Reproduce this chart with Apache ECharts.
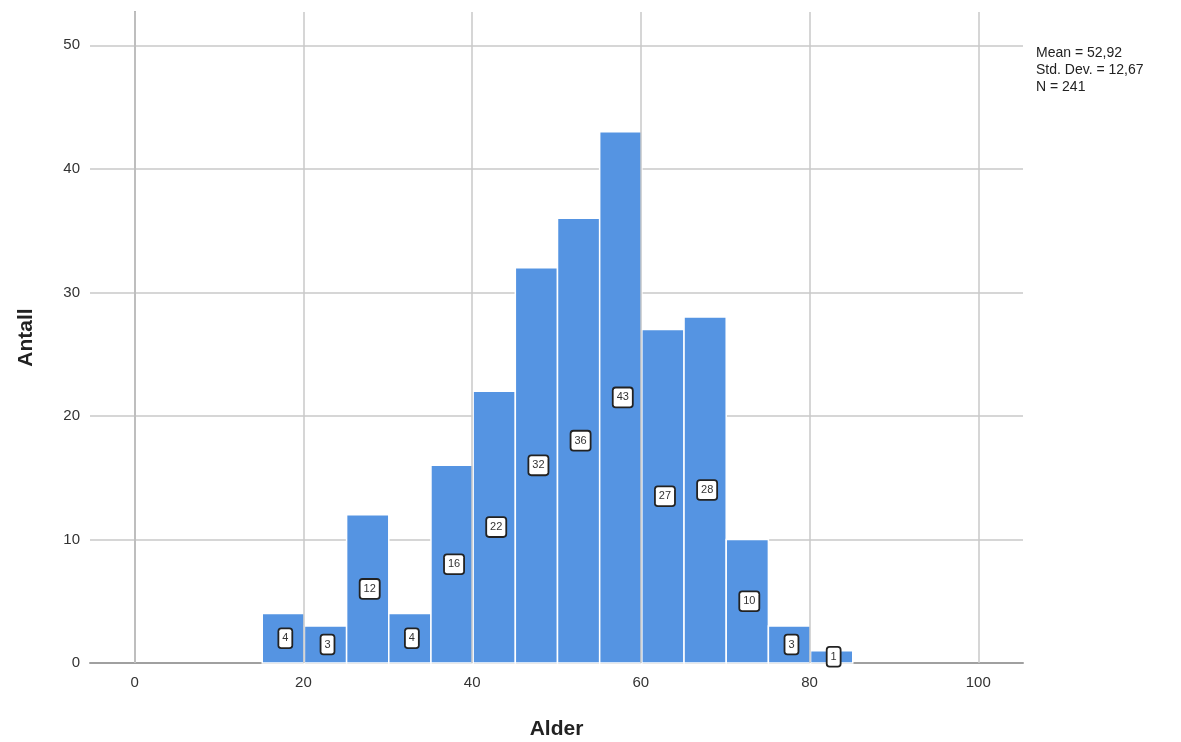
<!DOCTYPE html>
<html><head><meta charset="utf-8">
<script src="https://cdn.jsdelivr.net/npm/echarts@6/dist/echarts.min.js"></script>
<style>html,body{margin:0;padding:0;background:#fff}#c{width:1181px;height:742px}</style>
</head><body><div id="c"></div>
<script>
const binStarts = [15,20,25,30,35,40,45,50,55,60,65,70,75,80];
const binWidth = 5;
const counts = [4,3,12,4,16,22,32,36,43,27,28,10,3,1];
const xTicks = [0,20,40,60,80,100];
const yTicks = [0,10,20,30,40,50];
const statsLines = ['Mean = 52,92','Std. Dev. = 12,67','N = 241'];
const xTitle = 'Alder';
const yTitle = 'Antall';

const data = binStarts.map((s,i)=>[s, s+binWidth, counts[i]]);
const chart = echarts.init(document.getElementById('c'));
const font = 'Liberation Sans, Arial, sans-serif';
chart.setOption({
  animation:false,
  grid:{left:90,right:158,top:12,bottom:79,containLabel:false,outerBoundsMode:'none'},
  xAxis:{type:'value',min:-5.3,max:105.3,
    axisLine:{show:true,onZero:false,lineStyle:{color:'#a0a0a0',width:2}},
    axisTick:{show:false},
    axisLabel:{customValues:xTicks,color:'#333',fontSize:15,fontFamily:font,margin:12},
    splitLine:{show:false},
    name:xTitle,nameLocation:'middle',nameGap:56,
    nameTextStyle:{fontSize:21,fontWeight:'bold',color:'#222',fontFamily:font}
  },
  yAxis:{type:'value',min:0,max:52.7,interval:10,
    axisLine:{show:true,lineStyle:{color:'#a0a0a0',width:2}},
    axisTick:{show:false},
    axisLabel:{customValues:yTicks,color:'#333',fontSize:15,fontFamily:font,margin:10},
    splitLine:{show:true,showMaxLine:false,showMinLine:false,lineStyle:{color:'#c8c8c8',width:1.5}},
    name:yTitle,nameLocation:'middle',nameGap:53,nameRotate:90,
    nameTextStyle:{fontSize:21,fontWeight:'bold',color:'#222',fontFamily:font}
  },
  graphic:[{type:'text',left:1036,top:45,style:{text:statsLines.join('\n'),font:'14px '+font,fill:'#222',lineHeight:17}}],
  series:[
    {type:'line',data:[],markLine:{silent:true,symbol:'none',label:{show:false},
      lineStyle:{color:'#c8c8c8',width:1.5,type:'solid'},
      data:xTicks.map(v=>({xAxis:v}))}},
    {type:'custom',
     data:data,
     encode:{x:[0,1],y:2},
     renderItem:function(params,api){
       const s=api.value(0), e=api.value(1), v=api.value(2);
       const p0=api.coord([s,0]), p1=api.coord([e,v]);
       const cx=(p0[0]+p1[0])/2, cy=(p0[1]+p1[1])/2;
       return {type:'group',children:[
         {type:'rect',shape:{x:p0[0]+1,y:p1[1],width:p1[0]-p0[0],height:p0[1]-p1[1]},
          style:{fill:'#5594e2',stroke:'#ffffff',lineWidth:1.5}},
         {type:'text',x:cx+3,y:cy,z2:10,style:{text:String(v),fill:'#333',font:'11px '+font,
           align:'center',verticalAlign:'middle',backgroundColor:'#fff',borderColor:'#222',borderWidth:1.8,
           borderRadius:2,padding:[4,3,3,3]}}
       ]};
     }}
  ]
});
</script></body></html>
